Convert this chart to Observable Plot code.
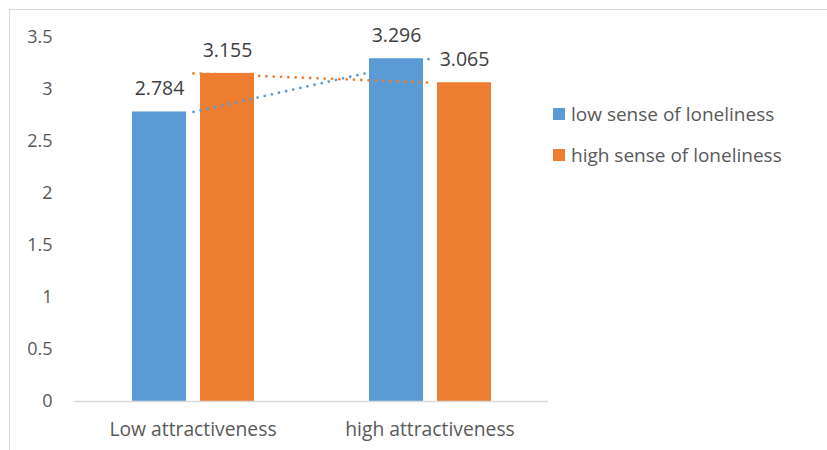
<!DOCTYPE html>
<html>
<head>
<meta charset="utf-8">
<script src="https://cdn.jsdelivr.net/npm/d3@7"></script>
<script src="https://cdn.jsdelivr.net/npm/@observablehq/plot@0.6"></script>
<style>
  body { margin: 0; background: #fff; font-family: "Open Sans", sans-serif; }
  #chart { position: relative; width: 827px; height: 450px; overflow: hidden; background: #fff; }
  #chart svg { position: absolute; left: 0; top: 0; }
  #chart svg g[aria-label^="fx-axis"] text { font-size: 19.3px; }
  .frame { position: absolute; left: 9px; top: 9px; width: 900px; height: 500px;
           border-left: 1.5px solid #d9d9d9; border-top: 1.5px solid #d9d9d9; }
  .legend { position: absolute; left: 553px; top: 98px; color: #595959; font-size: 19px; }
  .legend .item { display: flex; align-items: center; height: 32px; margin-bottom: 9px; }
  .legend .swatch { width: 12px; height: 12px; margin-right: 6px; }
</style>
</head>
<body>
<div id="chart"><div class="frame"></div></div>
<script>
// Mean ratings by attractiveness condition and loneliness group
const categories = ["Low attractiveness", "high attractiveness"];
const seriesNames = ["low sense of loneliness", "high sense of loneliness"];
const lowLoneliness = [2.784, 3.296];
const highLoneliness = [3.155, 3.065];
const seriesColors = ["#5b9bd5", "#ed7d31"];
const yTicks = [0, 0.5, 1, 1.5, 2, 2.5, 3, 3.5];

const rows = categories.flatMap((c, i) => [
  {category: c, series: seriesNames[0], value: lowLoneliness[i]},
  {category: c, series: seriesNames[1], value: highLoneliness[i]}
]);

const dims = {width: 827, height: 450, marginLeft: 74, marginRight: 279, marginTop: 37, marginBottom: 49};
const colorScale = {domain: seriesNames, range: seriesColors};

// Clustered bars, value labels and baseline
const bars = Plot.plot({
  ...dims,
  style: {fontFamily: "Open Sans", fontSize: "18px", color: "#595959", background: "transparent", overflow: "visible"},
  fx: {domain: categories, padding: 0, axis: "bottom", label: null, tickSize: 0, tickPadding: 21},
  x: {domain: seriesNames, axis: null, paddingInner: 0.21, paddingOuter: 0.845},
  y: {domain: [0, 3.5], ticks: yTicks, tickFormat: d => String(d), tickSize: 0, tickPadding: 22, label: null},
  color: colorScale,
  marks: [
    Plot.barY(rows, {fx: "category", x: "series", y: "value", fill: "series"}),
    Plot.text(rows, {fx: "category", x: "series", y: "value", text: d => d.value.toFixed(3),
                     dy: -23, fontSize: 19.5, fill: "#404040"}),
    Plot.ruleY([0], {stroke: "#d9d9d9", strokeWidth: 1.5})
  ]
});

// Dotted linear trend lines joining each series across the two conditions
const trends = Plot.plot({
  ...dims,
  style: {background: "transparent", overflow: "visible"},
  x: {type: "point", domain: categories, padding: 0.5, axis: null},
  y: {domain: [0, 3.5], axis: null},
  color: colorScale,
  marks: [
    Plot.line(rows, {x: "category", y: "value", z: "series", stroke: "series",
                     strokeWidth: 2.8, strokeDasharray: "0 7.3", strokeLinecap: "round"})
  ]
});

const chart = document.getElementById("chart");
chart.appendChild(bars);
chart.appendChild(trends);

// Legend
const legend = document.createElement("div");
legend.className = "legend";
seriesNames.forEach((name, i) => {
  const item = document.createElement("div");
  item.className = "item";
  const sw = document.createElement("span");
  sw.className = "swatch";
  sw.style.background = seriesColors[i];
  const label = document.createElement("span");
  label.textContent = name;
  item.appendChild(sw);
  item.appendChild(label);
  legend.appendChild(item);
});
chart.appendChild(legend);
</script>
</body>
</html>
